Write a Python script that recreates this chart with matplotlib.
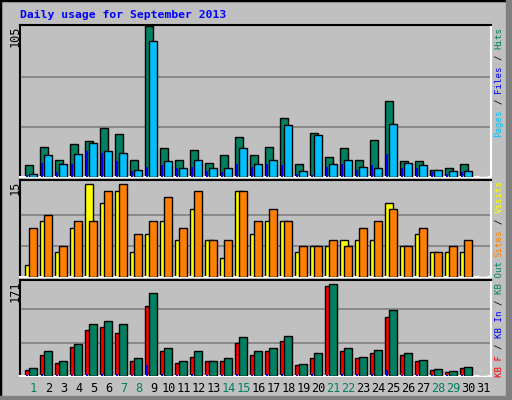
import matplotlib
matplotlib.use("Agg")
import matplotlib.pyplot as plt
from matplotlib.patches import Rectangle
import numpy as np

days = list(range(1, 32))
hits  = [8.6,21,12,23,25,34.5,30,12,105,20,12,19,10,15,28,15,21,41,9,31,14,20,12,26,53,11,11,5,6.5,9,0]
pages = [2.3,15,9,16,24,18,17,5,95,11,6.5,12,6.5,6.5,20,9,12,36,4.4,29,9,12,7,6.5,37,10,8.6,5,4.4,4.4,0]
files = [1.6,10,3.7,9,18,17,11,4.4,7,8.6,6.5,7,4.4,3.7,9,7,9,8.6,2.3,1.6,7,9,5,8.6,16,6.5,6.5,3.7,2.3,3.7,0]
visits = [2,9,4,8,15,12,14,4,7,9,6,11,6,3,14,7,9,9,4,5,5,6,6,6,12,5,7,4,4,4,0]
sites  = [8,10,5,9,9,14,15,7,9,13,8,14,6,6,14,9,11,9,5,5,6,5,8,9,11,5,8,4,5,6,0]
kb_f   = [11,36,23,50,78,83,74,25,119,42,23,33,25,26,57,35,43,60,19,31,154,42,30,40,100,36,26,11,6,14,0]
kb_in  = [1,3,2,2,4,4,4,2,19,3,2,3,1,1,3,2,3,4,1,3,2,3,3,3,11,2,2,1,1,2,0]
kb_out = [13,42,26,55,88,93,88,31,141,47,26,42,26,30,66,43,48,69,21,40,156,47,33,45,112,40,28,12.5,9,16,0]
weekend_days = [1,7,8,14,15,21,22,28,29]
max_labels = ["105", "15", "171"]

BG = "#C0C0C0"
W, H = 512, 400
fig = plt.figure(figsize=(5.12, 4.0), dpi=100, facecolor=BG)
mono = "DejaVu Sans Mono"

def fx(px): return px / W
def fy(py): return 1 - py / H

fig.patches.append(Rectangle((0, 0), 1, 1, transform=fig.transFigure, fill=False,
                             edgecolor="black", lw=2.5, zorder=0))
fig.patches.append(Rectangle((fx(506), 0), fx(6), 1, transform=fig.transFigure,
                             color="#808080", zorder=0))
fig.patches.append(Rectangle((0, 0), 1, 4 / H, transform=fig.transFigure,
                             color="#808080", zorder=0))

fig.text(fx(20), fy(15), "Daily usage for September 2013", color="#0000FF",
         family=mono, weight="bold", fontsize=8.2, va="center", ha="left")

L, R = 20, 490.7
panels = [(25, 177, 106), (180, 277, 15.7), (280, 376, 163.6)]
x = np.arange(31)
axes = []
for (top, bot, ymax) in panels:
    ax = fig.add_axes([fx(L), fy(bot), fx(R - L), (bot - top) / H])
    ax.set_facecolor(BG)
    ax.set_xlim(0, (R - L) / 15.0)
    ax.set_ylim(0, ymax)
    ax.set_xticks([]); ax.set_yticks([])
    for s in ["top", "left"]:
        ax.spines[s].set_color("black"); ax.spines[s].set_linewidth(1.5)
    for s in ["bottom", "right"]:
        ax.spines[s].set_color("white"); ax.spines[s].set_linewidth(1.5)
    axes.append(ax)

def grid(ax, lvl):
    for v in lvl:
        ax.axhline(v, color="#808080", lw=1.2, zorder=0)

ek = dict(edgecolor="black", linewidth=1.0, align="edge")
a0, a1, a2 = axes
grid(a0, [35, 70]); grid(a1, [5, 10]); grid(a2, [57, 114])

a0.bar(x + 0.36, hits, 0.49, color="#008060", zorder=2, **ek)
a0.bar(x + 0.42, files, 0.14, color="#0000FF", zorder=3, edgecolor="none", align="edge")
a0.bar(x + 0.62, pages, 0.49, color="#00C0FF", zorder=4, **ek)

a1.bar(x + 0.36, visits, 0.49, color="#FFFF00", zorder=2, **ek)
a1.bar(x + 0.62, sites, 0.49, color="#FF8000", zorder=3, **ek)

a2.bar(x + 0.36, kb_f, 0.49, color="#FF0000", zorder=2, **ek)
a2.bar(x + 0.42, kb_in, 0.14, color="#0000FF", zorder=3, edgecolor="none", align="edge")
a2.bar(x + 0.62, kb_out, 0.49, color="#008060", zorder=4, **ek)

for d in days:
    col = "#008060" if d in weekend_days else "black"
    fig.text(fx(L + (d - 1) * 15 + 13.5), fy(389), str(d), color=col, family=mono,
             fontsize=8.6, ha="center", va="center")

for (top, bot, ymax), lab in zip(panels, max_labels):
    fig.text(fx(15), fy(top + 1), lab, rotation=90, family=mono, fontsize=8.6,
             ha="center", va="top", color="black")

FS = 6.6
CW = FS * 100 / 72 * 0.602

def side(y0, segs):
    idx = 0
    for txt, col in segs:
        stripped = txt.strip()
        if stripped:
            lead = len(txt) - len(txt.lstrip())
            fig.text(fx(499), fy(y0 - (idx + lead) * CW), stripped, rotation=90,
                     color=col, family=mono, fontsize=FS, ha="center", va="bottom")
        idx += len(txt)

side(137, [("Pages", "#00C0FF"), (" / ", "black"), ("Files", "#0000FF"),
           (" / ", "black"), ("Hits", "#008060")])
side(257, [("Sites", "#FF8000"), (" / ", "black"), ("Visits", "#FFFF00")])
side(377, [("KB F", "#FF0000"), (" / ", "black"), ("KB In", "#0000FF"),
           (" / ", "black"), ("KB Out", "#008060")])

fig.savefig("out.png", dpi=100, facecolor=BG)
